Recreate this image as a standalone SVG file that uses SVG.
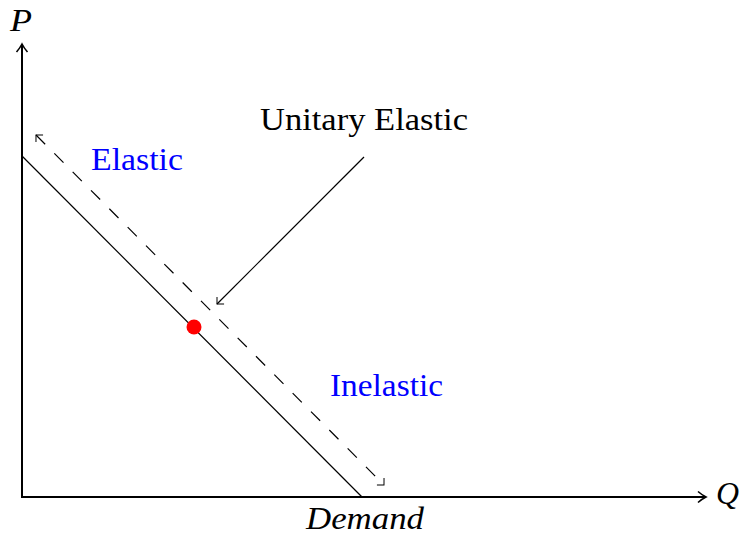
<svg xmlns="http://www.w3.org/2000/svg" width="740" height="536" viewBox="0 0 740 536">
<style>
text{font-family:"Liberation Serif","Times New Roman",serif;font-size:31px;fill:#000}
.it{font-style:italic}
.blue{fill:#0000ff}
.ax{stroke:#000;stroke-width:2;fill:none}
.ln{stroke:#000;stroke-width:1.2;fill:none}
</style>
<defs>
<marker id="ah" markerWidth="14" markerHeight="14" refX="11" refY="7" orient="auto" markerUnits="userSpaceOnUse">
<path d="M3,1.5 Q7,5 11,7 Q7,9 3,12.5" fill="none" stroke="#000" stroke-width="1.6"/>
</marker>
<marker id="sm" markerWidth="12" markerHeight="12" refX="8" refY="6" orient="auto-start-reverse" markerUnits="userSpaceOnUse">
<path d="M3,1 L8,6 L3,11" fill="none" stroke="#000" stroke-width="1"/>
</marker>
</defs>
<g id="connectors">
<line class="ax" x1="22" y1="497" x2="22" y2="44" marker-end="url(#ah)"/>
<line class="ax" x1="21" y1="497" x2="706" y2="497" marker-end="url(#ah)"/>
<line class="ln" x1="22" y1="156" x2="362" y2="497"/>
<line class="ln" x1="36" y1="135" x2="384" y2="485" stroke-dasharray="13,13" marker-start="url(#sm)" marker-end="url(#sm)"/>
<line class="ln" x1="364" y1="157" x2="217" y2="304" marker-end="url(#sm)"/>
</g>
<g id="point"><circle cx="194" cy="327" r="7.5" fill="#ff0000"/></g>
<g id="label-P"><text class="it" x="10" y="31" textLength="22" lengthAdjust="spacingAndGlyphs">P</text></g>
<g id="label-Q"><text class="it" x="716" y="504" textLength="23" lengthAdjust="spacingAndGlyphs">Q</text></g>
<g id="label-demand"><text class="it" x="306" y="529" textLength="118" lengthAdjust="spacingAndGlyphs">Demand</text></g>
<g id="label-unitary"><text x="260" y="130" textLength="208" lengthAdjust="spacingAndGlyphs">Unitary Elastic</text></g>
<g id="label-elastic"><text class="blue" x="91" y="170" textLength="92" lengthAdjust="spacingAndGlyphs">Elastic</text></g>
<g id="label-inelastic"><text class="blue" x="330" y="396" textLength="113" lengthAdjust="spacingAndGlyphs">Inelastic</text></g>
</svg>
